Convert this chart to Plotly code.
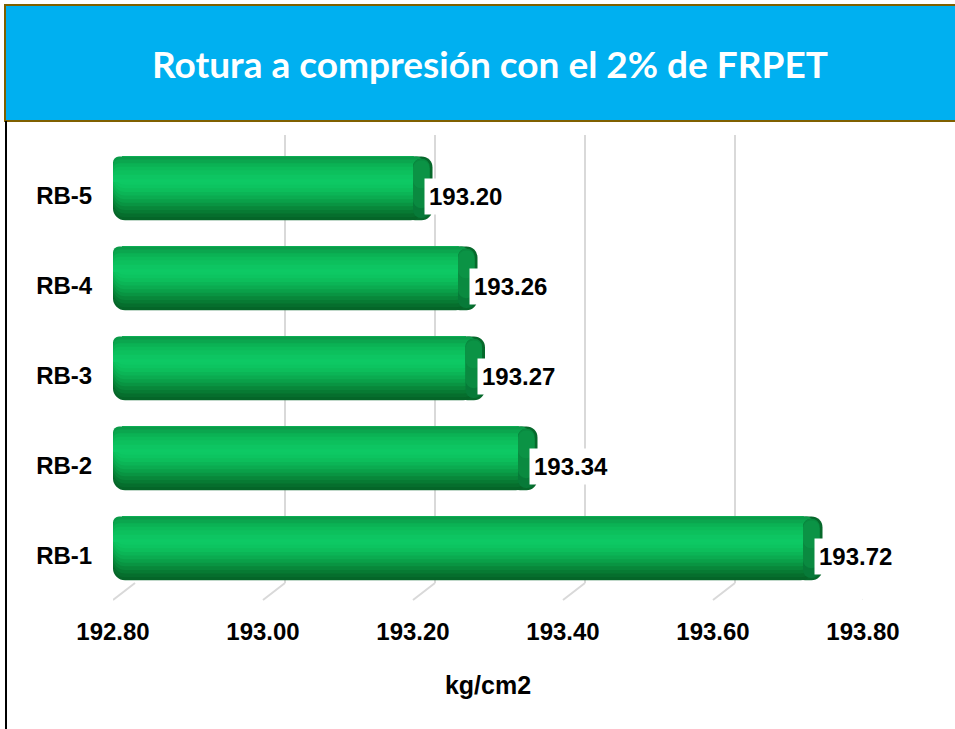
import plotly.graph_objects as go

# data
muestras = ['RB-1', 'RB-2', 'RB-3', 'RB-4', 'RB-5']
rotura = [193.72, 193.34, 193.27, 193.26, 193.20]
x_ticks = [192.80, 193.00, 193.20, 193.40, 193.60, 193.80]

W, H = 955, 729
X0 = 192.80
X1 = 193.80
CAP = 0.026   # depth of the cylinder end face, in axis units
LIFT = 0.085  # bars sit a little above their category label (3d look)


def px(v):
    return v / W


def py(v):
    return 1 - v / H


# shading of the cylinder: lower half bands run up to the top edge,
# upper half bands run down to the highlight, later ones paint over earlier ones
lower_bands = [
    (-0.355, '#056528'), (-0.32, '#066E2D'), (-0.28, '#077A33'), (-0.24, '#08873A'),
    (-0.20, '#099442'), (-0.16, '#0AA049'), (-0.12, '#0BAB50'), (-0.08, '#0BB556'),
    (-0.04, '#0CBE5B'), (0.00, '#0CC460'), (0.04, '#0DC863'),
]
upper_bands = [
    (0.355, '#0A9A48'), (0.32, '#0BA64E'), (0.28, '#0BB254'), (0.24, '#0CBA59'),
    (0.20, '#0CC05D'), (0.15, '#0DC562'), (0.10, '#0DC964'),
]
TOP = 0.355
PEAK = 0.07

fig = go.Figure()


def body(lo, hi, color, radius=12):
    # drawn from the value back to the axis start so the rounded end is on the left
    fig.add_trace(go.Bar(
        y=muestras, x=[X0 - (v + CAP / 2) for v in rotura],
        base=[v + CAP / 2 for v in rotura], orientation='h',
        width=hi - lo, offset=lo + LIFT,
        marker=dict(color=color, line_width=0, cornerradius=radius),
        xaxis='x2', yaxis='y2', hoverinfo='skip', showlegend=False,
    ))


# outer rounded right end
fig.add_trace(go.Bar(
    y=muestras, x=[CAP + 0.012] * len(rotura), base=[v - 0.012 for v in rotura],
    orientation='h', width=2 * TOP, offset=-TOP + LIFT,
    marker=dict(color='#06692B', line_width=0, cornerradius=11),
    xaxis='x2', yaxis='y2', hoverinfo='skip', showlegend=False,
))
for lo, color in lower_bands:
    body(lo, TOP, color)
for hi, color in upper_bands:
    body(PEAK, hi, color, radius=6)

# end face of the cylinder, rounded on its left side
for lo, hi, color in [(-0.33, 0.33, '#077A38'), (-0.22, 0.33, '#0A8A40'), (0.0, 0.31, '#0B9345')]:
    fig.add_trace(go.Bar(
        y=muestras, x=[-CAP * 0.85] * len(rotura), base=[v + CAP * 0.85 for v in rotura],
        orientation='h', width=hi - lo, offset=lo + LIFT,
        marker=dict(color=color, line_width=0, cornerradius=9),
        xaxis='x2', yaxis='y2', hoverinfo='skip', showlegend=False,
    ))

# invisible trace to carry the back-wall grid
fig.add_trace(go.Scatter(x=[X0, X1], y=[0, 1], mode='markers',
                         marker=dict(opacity=0), xaxis='x', yaxis='y',
                         hoverinfo='skip', showlegend=False))

label_font = dict(family='Liberation Sans', size=24, color='black', weight='bold')
annotations = []
for m, v in zip(muestras, rotura):
    annotations.append(dict(
        x=v, y=m, xref='x2', yref='y2', text='%.2f' % v, showarrow=False,
        xanchor='left', xshift=11, bgcolor='white', borderpad=4,
        font=label_font,
    ))

shapes = [
    dict(type='rect', xref='paper', yref='paper', x0=px(5), x1=1.01, y0=py(121), y1=py(5),
         fillcolor='#00B0F0', line=dict(color='#7F6000', width=2), layer='below'),
    dict(type='line', xref='paper', yref='paper', x0=px(6), x1=px(6), y0=0, y1=py(121),
         line=dict(color='black', width=2)),
]
for t in x_ticks:
    shapes.append(dict(
        type='line', xref='x2', yref='paper', xsizemode='pixel', ysizemode='pixel',
        xanchor=t, yanchor=py(600), x0=0, x1=22, y0=0, y1=17,
        line=dict(color='#D9D9D9', width=2), layer='below'))

tick_font = dict(family='Liberation Sans', size=24, color='black', weight='bold')

fig.update_layout(
    width=W, height=H,
    margin=dict(l=0, r=0, t=0, b=0, autoexpand=False),
    paper_bgcolor='white',
    plot_bgcolor='rgba(0,0,0,0)',
    barmode='overlay',
    title=dict(text='Rotura a compresión con el 2% de FRPET', x=px(490), y=py(65),
               xanchor='center', yanchor='middle',
               font=dict(family='Lato', size=37, color='white', weight='bold')),
    # back wall grid
    xaxis=dict(domain=[px(135), px(885)], range=[X0, X1], tickvals=x_ticks,
               showticklabels=False, showgrid=True, gridcolor='#D9D9D9', gridwidth=2,
               zeroline=False, showline=False, anchor='y', automargin=False),
    yaxis=dict(domain=[py(583), py(135)], range=[0, 1], showgrid=False,
               showticklabels=False, zeroline=False, showline=False, anchor='x',
               automargin=False),
    # front scale for the bars
    xaxis2=dict(domain=[px(113), px(863)], range=[X0, X1], tickvals=x_ticks,
                tickformat='.2f', showgrid=False, zeroline=False, showline=False,
                ticks='outside', ticklen=9, tickcolor='rgba(0,0,0,0)',
                tickfont=tick_font, anchor='y2', automargin=False,
                title=dict(text='kg/cm2', font=dict(tick_font, size=25), standoff=32)),
    yaxis2=dict(domain=[py(601), py(151)], categoryorder='array', categoryarray=muestras,
                range=[-0.5, 4.5], showgrid=False, zeroline=False, showline=False,
                ticks='outside', ticklen=15, tickcolor='rgba(0,0,0,0)',
                tickfont=tick_font, anchor='x2', automargin=False),
    annotations=annotations,
    shapes=shapes,
)

fig.write_html('out.html', config={'displayModeBar': False},
               post_script="document.body.style.margin = '0px';")
